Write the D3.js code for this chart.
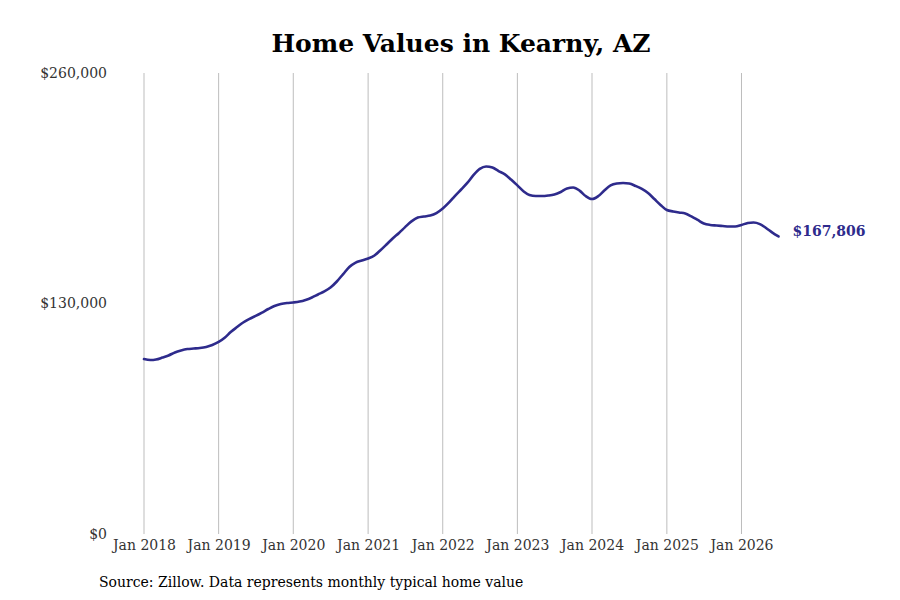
<!DOCTYPE html>
<html>
<head>
<meta charset="utf-8">
<script src="https://cdn.jsdelivr.net/npm/d3@7"></script>
<style>
  body { margin: 0; background: #fff; }
  svg { display: block; font-family: "DejaVu Serif", serif; }
</style>
</head>
<body>
<div id="chart"></div>
<script>
// Valeurs mensuelles (Zillow), janvier 2018 -> juillet 2026
const startMonth = "2018-01";
const values = [
  98700, 98100, 98400, 99500, 100700, 102400, 103500, 104300, 104600, 104900, 105500, 106600,
  108300, 110800, 113900, 116700, 119300, 121300, 123000, 124900, 126900, 128600, 129700, 130300,
  130600, 131100, 132000, 133400, 135100, 136800, 139000, 142400, 146600, 150600, 153100, 154300,
  155400, 157100, 159900, 163300, 166700, 169800, 173100, 176300, 178500, 179100, 179600, 181000,
  183600, 187000, 190600, 194300, 198000, 202500, 205900, 207300, 206700, 204700, 202800, 199900,
  196600, 193200, 191200, 190600, 190600, 190900, 191500, 192900, 194900, 195400, 193700, 190600,
  188900, 190600, 193700, 196600, 197700, 198000, 197700, 196300, 194600, 192300, 188900, 185600,
  182700, 181900, 181300, 180800, 179100, 177100, 175100, 174300, 174000, 173700, 173400, 173400,
  174300, 175400, 175700, 174800, 172600, 170000, 167806
];
const yTicks = [0, 130000, 260000];
const xTickYears = [2018, 2019, 2020, 2021, 2022, 2023, 2024, 2025, 2026];

const width = 900;
const height = 600;

const parse = d3.timeParse("%Y-%m");
const t0 = parse(startMonth);
const data = values.map((v, i) => ({ date: d3.timeMonth.offset(t0, i), value: v }));

const svg = d3.select("#chart").append("svg")
  .attr("width", width)
  .attr("height", height);

const x = d3.scaleTime()
  .domain([t0, data[data.length - 1].date])
  .range([144, 778.5]);

const y = d3.scaleLinear()
  .domain([0, 260000])
  .range([534, 73]);

// titre
svg.append("text")
  .attr("x", 461)
  .attr("y", 52)
  .attr("text-anchor", "middle")
  .style("font-size", "25px")
  .style("font-weight", "bold")
  .style("fill", "#000")
  .text("Home Values in Kearny, AZ");

// grille verticale (une ligne par janvier)
const xTicks = xTickYears.map(yr => new Date(yr, 0, 1));
svg.append("g")
  .selectAll("line")
  .data(xTicks)
  .join("line")
  .attr("x1", d => x(d))
  .attr("x2", d => x(d))
  .attr("y1", y(260000))
  .attr("y2", y(0))
  .style("stroke", "#bdbdbd")
  .style("stroke-width", 1);

// axe x
const xAxis = svg.append("g")
  .attr("transform", "translate(0," + y(0) + ")")
  .call(d3.axisBottom(x).tickValues(xTicks).tickFormat(d3.timeFormat("Jan %Y")).tickSize(0).tickPadding(6));
xAxis.select(".domain").remove();
xAxis.selectAll("text")
  .style("font-family", "DejaVu Serif, serif")
  .style("font-size", "14px")
  .style("fill", "#333");

// axe y
const yAxis = svg.append("g")
  .attr("transform", "translate(107,0)")
  .call(d3.axisLeft(y).tickValues(yTicks).tickFormat(d => "$" + d3.format(",")(d)).tickSize(0).tickPadding(0));
yAxis.select(".domain").remove();
yAxis.selectAll("text")
  .style("font-family", "DejaVu Serif, serif")
  .style("font-size", "14px")
  .style("fill", "#333");

// courbe
const line = d3.line()
  .x(d => x(d.date))
  .y(d => y(d.value))
  .curve(d3.curveMonotoneX);

svg.append("path")
  .datum(data)
  .attr("d", line)
  .style("fill", "none")
  .style("stroke", "#2e2b8c")
  .style("stroke-width", 2.6)
  .style("stroke-linejoin", "round")
  .style("stroke-linecap", "round");

// étiquette de la dernière valeur
const last = data[data.length - 1];
svg.append("text")
  .attr("x", x(last.date) + 14)
  .attr("y", y(last.value) - 5)
  .attr("dy", "0.35em")
  .style("font-size", "14px")
  .style("font-weight", "bold")
  .style("fill", "#2e2b8c")
  .text("$" + d3.format(",")(last.value));

// source
svg.append("text")
  .attr("x", 99)
  .attr("y", 587)
  .style("font-size", "14px")
  .style("fill", "#000")
  .text("Source: Zillow. Data represents monthly typical home value");
</script>
</body>
</html>
